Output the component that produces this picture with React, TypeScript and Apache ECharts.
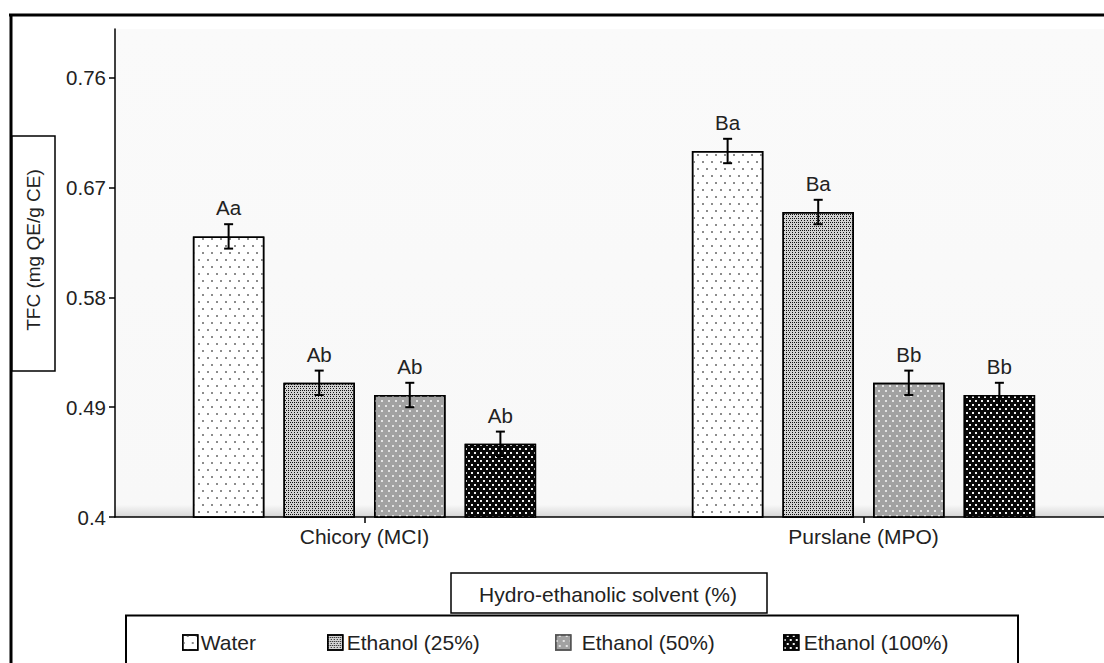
import React, { useEffect, useRef } from 'react';
import * as echarts from 'echarts';

// ---------- data ----------
const categories = ['Chicory (MCI)', 'Purslane (MPO)'];
const seriesNames = ['Water', 'Ethanol (25%)', 'Ethanol (50%)', 'Ethanol (100%)'];

const waterValues = [0.63, 0.70];
const ethanol25Values = [0.51, 0.65];
const ethanol50Values = [0.50, 0.51];
const ethanol100Values = [0.46, 0.50];

const waterErrors = [0.01, 0.01];
const ethanol25Errors = [0.01, 0.01];
const ethanol50Errors = [0.01, 0.01];
const ethanol100Errors = [0.01, 0.01];

const waterLetters = ['Aa', 'Ba'];
const ethanol25Letters = ['Ab', 'Ba'];
const ethanol50Letters = ['Ab', 'Bb'];
const ethanol100Letters = ['Ab', 'Bb'];

const yTickValues = [0.4, 0.49, 0.58, 0.67, 0.76];
const yMin = 0.4;
const yMax = 0.8;

const yAxisTitle = 'TFC (mg QE/g CE)';
const legendTitle = 'Hydro-ethanolic solvent (%)';

// ---------- styles ----------
const FONT = '"Liberation Sans", Arial, Helvetica, sans-serif';
const TEXT = '#222222';
const BAR_WIDTH = 71.5;
const BAR_GAP = 0.267;
const BAR_PITCH = BAR_WIDTH * (1 + BAR_GAP);

const barStyles: any[] = [
  {
    color: '#ffffff',
    borderColor: '#000',
    borderWidth: 1.5,
    decal: {
      symbol: 'rect',
      symbolSize: 1,
      color: '#8c8c8c',
      dashArrayX: [[1.5, 6.5], [0, 4, 1.5, 2.5]],
      dashArrayY: [1.5, 5],
    },
  },
  {
    color: '#d2d2d2',
    borderColor: '#000',
    borderWidth: 1.5,
    decal: {
      symbol: 'rect',
      symbolSize: 1,
      color: '#111111',
      dashArrayX: [[1, 1], [1, 2]],
      dashArrayY: [1, 1],
    },
  },
  {
    color: '#a2a2a2',
    borderColor: '#000',
    borderWidth: 1.5,
    decal: {
      symbol: 'rect',
      symbolSize: 1,
      color: '#e4e4e4',
      dashArrayX: [[1.5, 4.5], [0, 3, 1.5, 1.5]],
      dashArrayY: [1.5, 3],
    },
  },
  {
    color: '#080808',
    borderColor: '#000',
    borderWidth: 1.5,
    decal: {
      symbol: 'rect',
      symbolSize: 1,
      color: '#f0f0f0',
      dashArrayX: [[1.5, 3.5], [0, 2.5, 1.5, 1]],
      dashArrayY: [1.5, 2],
    },
  },
];

const legendLefts = [182, 327, 555, 783];
const legendTextPad = [[0, 0, 0, -2], [0, 0, 0, -1], [0, 0, 0, 6], [0, 0, 0, 0]];

export default function App() {
  const ref = useRef<HTMLDivElement>(null);

  useEffect(() => {
    if (!ref.current) return;
    const chart = echarts.init(ref.current, undefined, { renderer: 'svg' });

    const values = [waterValues, ethanol25Values, ethanol50Values, ethanol100Values];
    const errors = [waterErrors, ethanol25Errors, ethanol50Errors, ethanol100Errors];
    const letters = [waterLetters, ethanol25Letters, ethanol50Letters, ethanol100Letters];

    const barSeries = seriesNames.map((name, si) => ({
      type: 'bar',
      name,
      data: values[si],
      barWidth: BAR_WIDTH,
      barGap: `${BAR_GAP * 100}%`,
      itemStyle: barStyles[si],
      label: {
        show: true,
        position: 'top',
        distance: 18,
        formatter: (p: any) => letters[si][p.dataIndex],
        fontSize: 20.5,
        color: TEXT,
        fontFamily: FONT,
      },
      z: 2,
    }));

    const errSeries = seriesNames.map((name, si) => ({
      type: 'custom',
      name: 'err-' + name,
      data: categories.map((_, ci) => [ci, values[si][ci], errors[si][ci]]),
      encode: { x: 0, y: 1 },
      z: 5,
      silent: true,
      renderItem: (params: any, api: any) => {
        const ci = api.value(0);
        const v = api.value(1);
        const e = api.value(2);
        const top = api.coord([ci, v + e]);
        const bot = api.coord([ci, v - e]);
        const x = top[0] + (si - 1.5) * BAR_PITCH;
        const cap = 4.5;
        const st = { stroke: '#000', lineWidth: 2 };
        return {
          type: 'group',
          children: [
            { type: 'line', shape: { x1: x, y1: top[1], x2: x, y2: bot[1] }, style: st },
            { type: 'line', shape: { x1: x - cap, y1: top[1], x2: x + cap, y2: top[1] }, style: st },
            { type: 'line', shape: { x1: x - cap, y1: bot[1], x2: x + cap, y2: bot[1] }, style: st },
          ],
        };
      },
    }));

    const legends = seriesNames.map((name, si) => ({
      show: true,
      data: [name],
      left: legendLefts[si],
      top: 632,
      padding: 0,
      orient: 'horizontal',
      icon: 'rect',
      itemWidth: 15,
      itemHeight: 15,
      selectedMode: false,
      itemStyle: { borderWidth: 1.5, borderColor: si === 2 ? '#555' : '#000' },
      textStyle: {
        fontSize: 21,
        color: TEXT,
        fontFamily: FONT,
        padding: legendTextPad[si],
      },
    }));

    const option: any = {
      animation: false,
      textStyle: { fontFamily: FONT },
      grid: {
        left: 115,
        top: 29,
        width: 998,
        height: 488,
        show: true,
        borderWidth: 0,
        backgroundColor: new echarts.graphic.LinearGradient(0, 0, 0, 1, [
          { offset: 0, color: '#fafafa' },
          { offset: 0.975, color: '#f8f8f8' },
          { offset: 1, color: '#d6d6d6' },
        ]),
      },
      legend: legends,
      xAxis: {
        type: 'category',
        data: categories,
        axisLine: { show: true, lineStyle: { color: '#000', width: 1.5 } },
        axisTick: { show: true, alignWithLabel: true, length: 6, lineStyle: { color: '#000', width: 1.5 } },
        axisLabel: { fontSize: 21, color: TEXT, margin: 9, fontFamily: FONT },
        splitLine: { show: false },
      },
      yAxis: {
        type: 'value',
        min: yMin,
        max: yMax,
        axisLine: { show: true, lineStyle: { color: '#000', width: 1.5 } },
        axisTick: {
          show: true,
          length: 6,
          lineStyle: { color: '#000', width: 1.5 },
          customValues: yTickValues,
        },
        axisLabel: {
          fontSize: 20.5,
          color: TEXT,
          margin: 9,
          fontFamily: FONT,
          customValues: yTickValues,
          formatter: (v: number) => String(Math.round(v * 100) / 100),
        },
        splitLine: { show: false },
      },
      series: [...barSeries, ...errSeries],
      graphic: [
        // outer frame
        { type: 'line', shape: { x1: 9, y1: 15, x2: 1120, y2: 15 }, style: { stroke: '#000', lineWidth: 3 }, z: 100 },
        { type: 'line', shape: { x1: 11, y1: 14, x2: 11, y2: 663 }, style: { stroke: '#000', lineWidth: 3 }, z: 100 },
        // y-axis title box
        {
          type: 'rect',
          shape: { x: 12, y: 136, width: 43, height: 235 },
          style: { fill: '#fff', stroke: '#000', lineWidth: 1.5 },
          z: 100,
        },
        {
          type: 'text',
          x: 33,
          y: 250,
          rotation: Math.PI / 2,
          style: {
            text: yAxisTitle,
            fontSize: 19,
            fill: TEXT,
            fontFamily: FONT,
            align: 'center',
            verticalAlign: 'middle',
          },
          z: 101,
        },
        // legend title box
        {
          type: 'rect',
          shape: { x: 451, y: 573, width: 316, height: 40 },
          style: { fill: '#fff', stroke: '#000', lineWidth: 1.5 },
          z: 100,
        },
        {
          type: 'text',
          x: 608,
          y: 594,
          style: {
            text: legendTitle,
            fontSize: 21,
            fill: TEXT,
            fontFamily: FONT,
            align: 'center',
            verticalAlign: 'middle',
          },
          z: 101,
        },
        // legend box
        {
          type: 'rect',
          shape: { x: 126, y: 615.5, width: 892, height: 60 },
          style: { fill: 'none', stroke: '#000', lineWidth: 2 },
          z: 100,
        },
      ],
    };

    chart.setOption(option);
    return () => chart.dispose();
  }, []);

  return (
    <div
      style={{
        position: 'fixed',
        left: 0,
        top: 0,
        width: 1104,
        height: 663,
        overflow: 'hidden',
        background: '#fff',
      }}
    >
      <div ref={ref} style={{ width: 1124, height: 663 }} />
    </div>
  );
}
